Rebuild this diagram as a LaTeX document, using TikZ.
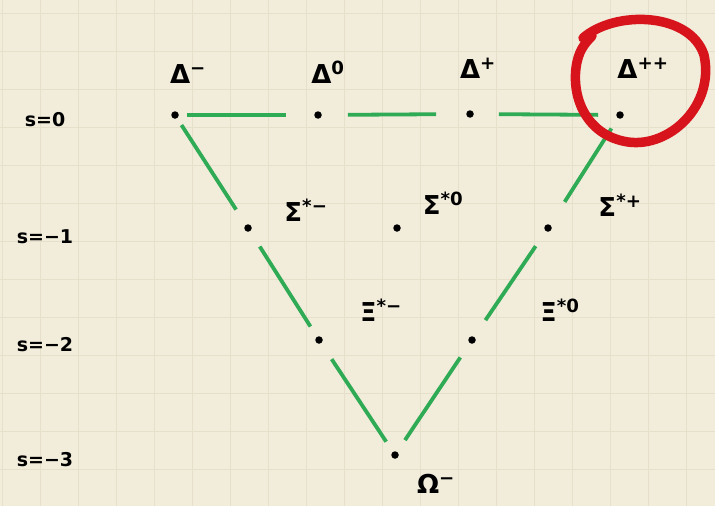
\documentclass[tikz,border=0pt]{standalone}
\usepackage{fontspec}
\setmainfont{DejaVu Sans}
\definecolor{paper}{HTML}{F2EDDB}
\definecolor{gridc}{HTML}{E6DFC9}
\definecolor{pen}{HTML}{2FAA55}
\definecolor{marker}{HTML}{D7141B}
\tikzset{
  pt/.style={circle,fill=black,inner sep=0pt,minimum size=7.5pt},
  lab/.style={font=\fontsize{26}{30}\selectfont\bfseries,inner sep=0pt},
  rowlab/.style={font=\fontsize{19}{22}\selectfont\bfseries,inner sep=0pt},
  gline/.style={draw=pen,line width=3.8pt},
}
\newcommand{\hsup}[1]{\textsuperscript{#1}}
\begin{document}
\begin{tikzpicture}[x=1pt,y=-1pt]
\fill[paper] (0,0) rectangle (715,506);
\useasboundingbox (0,0) rectangle (715,506);
\foreach \gx in {2,40,...,714} \draw[gridc,line width=1pt] (\gx,0) -- (\gx,506);
\foreach \gy in {13,51,...,506} \draw[gridc,line width=1pt] (0,\gy) -- (715,\gy);
% points
\node[pt] (dm) at (175,115) {};
\node[pt] (d0) at (318,115) {};
\node[pt] (dp) at (470,114) {};
\node[pt] (dpp) at (620,115) {};
\node[pt] (sm) at (248,228) {};
\node[pt] (s0) at (397,228) {};
\node[pt] (sp) at (548,228) {};
\node[pt] (xm) at (319,340) {};
\node[pt] (xz) at (472,340) {};
\node[pt] (om) at (395,455) {};
% labels
\node[lab] (ldm) at (188,74) {Δ\hsup{−}};
\node[lab] (ld0) at (328,72) {Δ\hsup{0}};
\node[lab] (ldp) at (478,68) {Δ\hsup{+}};
\node[lab] (ldpp) at (643,68) {Δ\hsup{++}};
\node[lab] (lsm) at (306,210) {Σ\hsup{*−}};
\node[lab] (ls0) at (443,203) {Σ\hsup{*0}};
\node[lab] (lsp) at (620,205) {Σ\hsup{*+}};
\node[lab] (lxm) at (381,310) {Ξ\hsup{*−}};
\node[lab] (lxz) at (560,310) {Ξ\hsup{*0}};
\node[lab] (lom) at (436,484) {Ω\hsup{−}};
\node[rowlab] (r0) at (45,120) {s=0};
\node[rowlab] (r1) at (45,237) {s=−1};
\node[rowlab] (r2) at (45,345) {s=−2};
\node[rowlab] (r3) at (45,460) {s=−3};
% green edges
\draw[gline,shorten <=8pt,shorten >=28pt] (dm) -- (d0);
\draw[gline,shorten <=26pt,shorten >=30pt] (d0) -- (dp);
\draw[gline,shorten <=25pt,shorten >=18pt] (dp) -- (dpp);
\draw[gline,shorten <=8pt,shorten >=18pt] (dm) -- (sm);
\draw[gline,shorten <=18pt,shorten >=12pt] (sm) -- (xm);
\draw[gline,shorten <=19pt,shorten >=12pt] (xm) -- (om);
\draw[gline,shorten <=12pt,shorten >=27pt] (dpp) -- (sp);
\draw[gline,shorten <=18pt,shorten >=20pt] (sp) -- (xz);
\draw[gline,shorten <=17pt,shorten >=14pt] (xz) -- (om);
% red circle
\draw[marker,line width=9.5pt,line cap=round] (583,38) .. controls (615,10) and (690,12) .. (704,55)
  .. controls (715,105) and (670,148) .. (628,142)
  .. controls (588,136) and (572,100) .. (576,68)
  .. controls (578,52) and (584,44) .. (592,36);
\end{tikzpicture}
\end{document}
